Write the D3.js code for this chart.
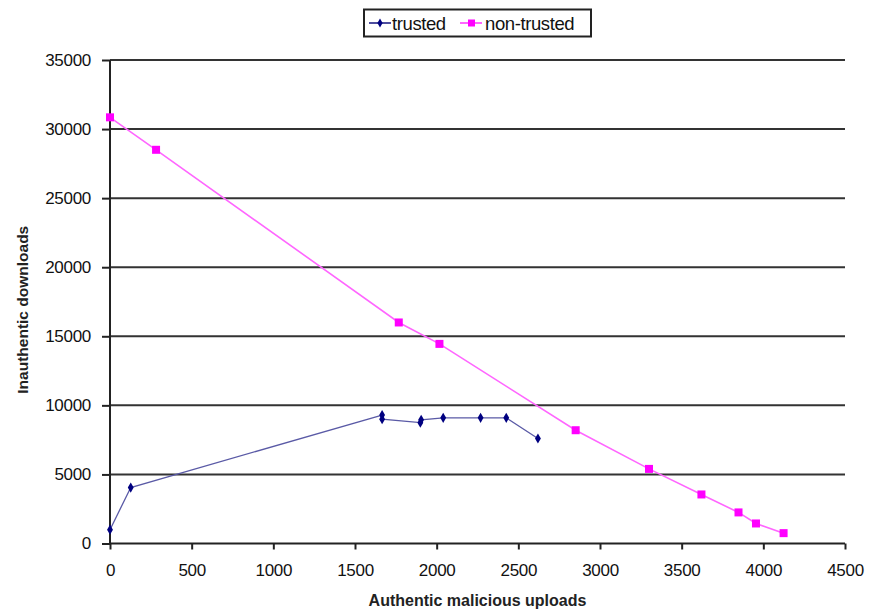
<!DOCTYPE html>
<html><head><meta charset="utf-8">
<script src="https://cdn.jsdelivr.net/npm/d3@7"></script>
<style>body{margin:0;background:#fff;}svg{display:block;}</style>
</head><body>
<svg id="chart" width="879" height="610"></svg>
<script>
const trustedX = [0, 127, 1666, 1666, 1900, 1905, 2040, 2269, 2426, 2620];
const trustedY = [1000, 4050, 9300, 9000, 8750, 8950, 9100, 9100, 9100, 7600];
const nonTrustedX = [0, 282, 1768, 2017, 2851, 3300, 3621, 3848, 3955, 4124];
const nonTrustedY = [30850, 28500, 16000, 14450, 8200, 5400, 3550, 2250, 1450, 750];
const xTicks = [0, 500, 1000, 1500, 2000, 2500, 3000, 3500, 4000, 4500];
const yTicks = [0, 5000, 10000, 15000, 20000, 25000, 30000, 35000];
const seriesNames = ["trusted", "non-trusted"];

const svg = d3.select("#chart");
const m = {l: 110, r: 34, t: 60, b: 66.5};
const W = 879, H = 610;
const x = d3.scaleLinear().domain([0, 4500]).range([m.l, W - m.r]);
const y = d3.scaleLinear().domain([0, 35000]).range([H - m.b, m.t]);
const font = "'Liberation Sans', Arial, sans-serif";

// gridlines
svg.append("g").selectAll("line").data(yTicks.filter(d => d > 0)).join("line")
  .attr("x1", x(0)).attr("x2", x(4500))
  .attr("y1", d => y(d)).attr("y2", d => y(d))
  .attr("stroke", "#333").attr("stroke-width", 2);

// axes
const xAxis = svg.append("g").attr("transform", `translate(0,${y(0)})`)
  .call(d3.axisBottom(x).tickValues(xTicks).tickSize(6).tickPadding(14).tickFormat(d3.format("d")));
const yAxis = svg.append("g").attr("transform", `translate(${x(0)},0)`)
  .call(d3.axisLeft(y).tickValues(yTicks).tickSize(8).tickPadding(11).tickFormat(d3.format("d")));
[xAxis, yAxis].forEach(a => {
  a.select(".domain").attr("stroke", "#222").attr("stroke-width", 2);
  a.selectAll(".tick line").attr("stroke", "#222").attr("stroke-width", 2);
  a.selectAll(".tick text").attr("font-family", font).attr("font-size", 17)
    .attr("letter-spacing", -0.3).attr("fill", "#111");
});
xAxis.select(".domain").attr("d", `M${x(0)},0H${x(4500)}`);
yAxis.select(".domain").attr("d", `M0,${y(0)}V${y(35000)}`);

// axis titles
svg.append("text").attr("x", (x(0) + x(4500)) / 2).attr("y", 606)
  .attr("text-anchor", "middle").attr("font-family", font).attr("font-size", 16)
  .attr("font-weight", "bold").attr("fill", "#222").text("Authentic malicious uploads");
svg.append("text").attr("transform", `translate(28,${(y(0) + y(35000)) / 2 + 8}) rotate(-90)`)
  .attr("text-anchor", "middle").attr("font-family", font).attr("font-size", 15.5)
  .attr("font-weight", "bold").attr("fill", "#222").text("Inauthentic downloads");

const line = d3.line().x(d => x(d[0])).y(d => y(d[1]));
const trusted = trustedX.map((v, i) => [v, trustedY[i]]);
const nonTrusted = nonTrustedX.map((v, i) => [v, nonTrustedY[i]]);

// non-trusted
svg.append("path").datum(nonTrusted).attr("d", line).attr("fill", "none")
  .attr("stroke", "#ff66ff").attr("stroke-width", 1.6);
svg.append("g").selectAll("rect").data(nonTrusted).join("rect")
  .attr("x", d => x(d[0]) - 4).attr("y", d => y(d[1]) - 4)
  .attr("width", 8).attr("height", 8).attr("fill", "#ff00ff");

// trusted
svg.append("path").datum(trusted).attr("d", line).attr("fill", "none")
  .attr("stroke", "#5a5aa6").attr("stroke-width", 1.3);
svg.append("g").selectAll("path").data(trusted).join("path")
  .attr("d", d3.symbol(d3.symbolDiamond, 30))
  .attr("transform", d => `translate(${x(d[0])},${y(d[1])})`)
  .attr("fill", "#000080");

// legend
const lg = svg.append("g");
lg.append("rect").attr("x", 364).attr("y", 9.5).attr("width", 227).attr("height", 27)
  .attr("fill", "#fff").attr("stroke", "#222").attr("stroke-width", 2);
const items = [
  {name: seriesNames[0], lx: 369, tx: 392, col: "#000080", lcol: "#4d4d9e", sym: "d"},
  {name: seriesNames[1], lx: 460, tx: 485, col: "#ff00ff", lcol: "#ff66ff", sym: "s"}
];
items.forEach(it => {
  lg.append("line").attr("x1", it.lx).attr("x2", it.lx + 22).attr("y1", 23).attr("y2", 23)
    .attr("stroke", it.lcol).attr("stroke-width", 2);
  if (it.sym === "d") {
    lg.append("path").attr("d", d3.symbol(d3.symbolDiamond, 24))
      .attr("transform", `translate(${it.lx + 11},23)`).attr("fill", it.col);
  } else {
    lg.append("rect").attr("x", it.lx + 8).attr("y", 19.5).attr("width", 7).attr("height", 7).attr("fill", it.col);
  }
  lg.append("text").attr("x", it.tx).attr("y", 29.5).attr("font-family", font)
    .attr("font-size", 18.5).attr("letter-spacing", -0.4).attr("fill", "#111").text(it.name);
});
</script>
</body></html>
